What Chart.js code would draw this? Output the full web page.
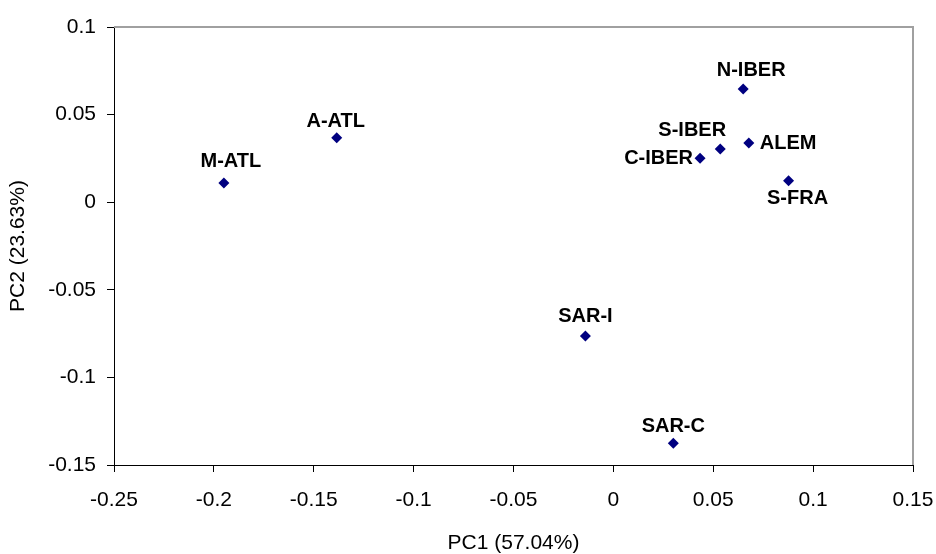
<!DOCTYPE html>
<html>
<head>
<meta charset="utf-8">
<script src="https://cdn.jsdelivr.net/npm/chart.js@4"></script>
<style>
  body { margin: 0; background: #fff; }
  #wrap { width: 936px; height: 554px; }
</style>
</head>
<body>
<div id="wrap"><canvas id="pcaChart"></canvas></div>
<script>
// Data
const populations = ['M-ATL', 'A-ATL', 'N-IBER', 'S-IBER', 'C-IBER', 'ALEM', 'S-FRA', 'SAR-I', 'SAR-C'];
const pc1 = [-0.195, -0.1385, 0.065, 0.0535, 0.0434, 0.0678, 0.0877, -0.014, 0.030];
const pc2 = [0.011, 0.0368, 0.0646, 0.0304, 0.0251, 0.0338, 0.0123, -0.0764, -0.1376];

const xTicks = [-0.25, 0.15, 0.05];   // min, max, step
const yTicks = [-0.15, 0.1, 0.05];

// where each label sits relative to its marker: [dx, dy, align]
const labelPlacement = [
  [7, -21, 'center'], [-1, -16, 'center'], [8, -19, 'center'],
  [-28, -18, 'center'], [-7, 0, 'right'], [11, 1, 'left'],
  [9, 18, 'center'], [0, -20, 'center'], [0, -17, 'center']
];

const points = pc1.map((x, i) => ({ x: x, y: pc2[i] }));
const fmt = v => String(+Number(v).toFixed(2));

const pointLabels = {
  id: 'pointLabels',
  afterDatasetsDraw(chart) {
    const ctx = chart.ctx;
    const meta = chart.getDatasetMeta(0);
    ctx.save();
    ctx.font = 'bold 20px "Liberation Sans", Arial, sans-serif';
    ctx.fillStyle = '#000';
    ctx.textBaseline = 'middle';
    meta.data.forEach((pt, i) => {
      const [dx, dy, align] = labelPlacement[i];
      ctx.textAlign = align;
      ctx.fillText(populations[i], pt.x + dx, pt.y + dy);
    });
    ctx.restore();
  }
};

// grey frame on top and right like the original
const frame = {
  id: 'frame',
  beforeDatasetsDraw(chart) {
    const { ctx, chartArea: a } = chart;
    ctx.save();
    ctx.strokeStyle = '#a0a0a0';
    ctx.lineWidth = 2;
    ctx.beginPath();
    ctx.moveTo(a.left, a.top);
    ctx.lineTo(a.right, a.top);
    ctx.lineTo(a.right, a.bottom);
    ctx.stroke();
    ctx.restore();
  }
};

const tickFont = { family: '"Liberation Sans", Arial, sans-serif', size: 21 };
const titleFont = { family: '"Liberation Sans", Arial, sans-serif', size: 21, lineHeight: 1 };

new Chart(document.getElementById('pcaChart').getContext('2d'), {
  type: 'scatter',
  data: {
    datasets: [{
      label: 'PCA',
      data: points,
      pointStyle: 'rectRot',
      pointRadius: 5.5,
      pointHoverRadius: 5.5,
      backgroundColor: '#000080',
      borderColor: '#000080',
      borderWidth: 0
    }]
  },
  options: {
    responsive: true,
    maintainAspectRatio: false,
    animation: false,
    layout: { padding: { top: 27, right: 23, left: 0, bottom: 0 } },
    plugins: { legend: { display: false }, tooltip: { enabled: false } },
    scales: {
      x: {
        type: 'linear',
        min: xTicks[0],
        max: xTicks[1],
        afterFit: s => { s.height = 89; s.paddingLeft = 0; s.paddingRight = 0; },
        ticks: { stepSize: xTicks[2], callback: fmt, font: tickFont, color: '#000', padding: 16, maxRotation: 0 },
        grid: { drawOnChartArea: false, drawTicks: true, tickLength: 7, color: '#000' },
        border: { display: true, color: '#000', width: 1 },
        title: { display: true, text: 'PC1 (57.04%)', font: titleFont, color: '#000', padding: 0 }
      },
      y: {
        type: 'linear',
        min: yTicks[0],
        max: yTicks[1],
        afterFit: s => { s.width = 114; s.paddingTop = 0; s.paddingBottom = 0; },
        ticks: { stepSize: yTicks[2], callback: fmt, font: tickFont, color: '#000', padding: 11 },
        grid: { drawOnChartArea: false, drawTicks: true, tickLength: 7, color: '#000' },
        border: { display: true, color: '#000', width: 1 },
        title: { display: true, text: 'PC2 (23.63%)', font: titleFont, color: '#000', padding: { top: 8, bottom: 0 } }
      }
    }
  },
  plugins: [frame, pointLabels]
});
</script>
</body>
</html>
